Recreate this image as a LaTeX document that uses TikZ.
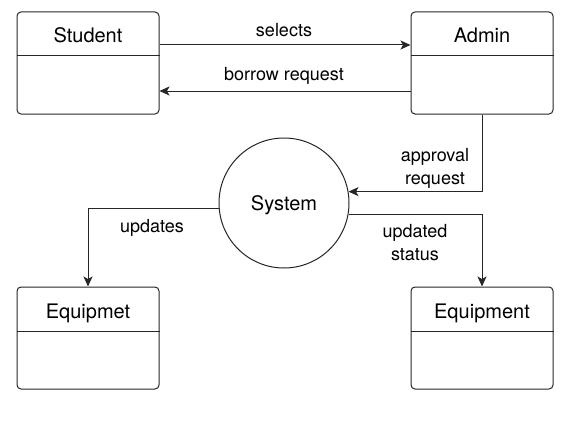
\documentclass[tikz,border=0pt]{standalone}
\usepackage{fontspec}
\setmainfont{TeX Gyre Heros}
\usetikzlibrary{arrows.meta}
\begin{document}
\begin{tikzpicture}[x=1pt,y=-1pt,
  ln/.style={draw=black!85, line width=1pt},
  box/.style={ln, rectangle, rounded corners=4pt, minimum width=142pt, minimum height=102pt, inner sep=0pt},
  title/.style={font=\fontsize{20}{24}\selectfont, anchor=base, inner sep=0pt},
  lbl/.style={font=\fontsize{18}{23}\selectfont, anchor=base, inner sep=0pt, align=center},
  arr/.style={ln, -{Stealth[length=10pt, width=9pt, inset=2.5pt]}}]
\useasboundingbox (0,0) rectangle (578,428);
% boxes
\node[box] (student) at (88,63) {};
\node[box] (admin) at (482,63) {};
\node[box] (equipa) at (88,338) {};
\node[box] (equipb) at (482,338) {};
\draw[ln] (student.west |- 0,56) -- (student.east |- 0,56);
\draw[ln] (admin.west |- 0,56) -- (admin.east |- 0,56);
\draw[ln] (equipa.west |- 0,331) -- (equipa.east |- 0,331);
\draw[ln] (equipb.west |- 0,331) -- (equipb.east |- 0,331);
\node[title] (studentT) at (88,43) {Student};
\node[title] (adminT) at (482,43) {Admin};
\node[title] (equipaT) at (88,318) {Equipmet};
\node[title] (equipbT) at (482,318) {Equipment};
% system
\node[ln, circle, minimum size=130pt, inner sep=0pt] (sys) at (284,203) {};
\node[title] (sysT) at (284,210) {System};
% connectors
\draw[arr] (student.east |- 0,45) -- (admin.west |- 0,45);
\draw[arr] (admin.west |- 0,91) -- (student.east |- 0,91);
\draw[arr] (admin.south) |- (sys.10);
\draw[arr] (sys.185) -| (equipa.north);
\draw[arr] (sys.-10) -| (equipb.north);
% labels
\node[lbl] (l1) at (284,37) {selects};
\node[lbl] (l2) at (284,81) {borrow request};
\node[lbl] (l3) at (152,232) {updates};
\node[lbl] (l4) at (435,184) {approval\\request};
\node[lbl] (l5) at (415,260) {updated\\status};
\end{tikzpicture}
\end{document}
